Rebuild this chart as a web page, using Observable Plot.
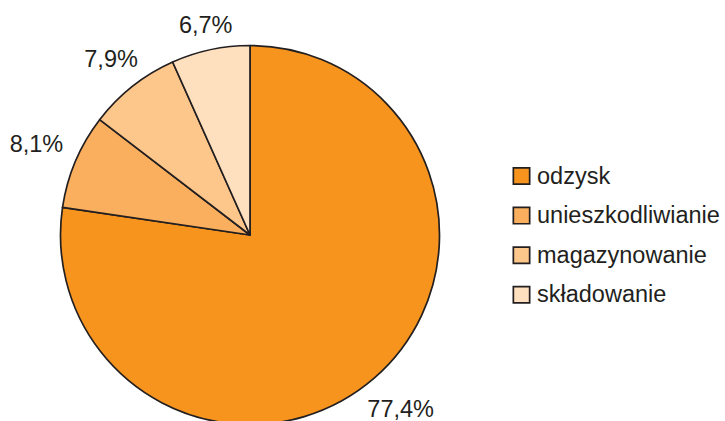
<!DOCTYPE html>
<html>
<head>
<meta charset="utf-8">
<script src="https://cdn.jsdelivr.net/npm/d3@7"></script>
<script src="https://cdn.jsdelivr.net/npm/@observablehq/plot@0.6"></script>
<style>
  html, body { margin: 0; padding: 0; background: #fff; }
  #chart svg { display: block; }
</style>
</head>
<body>
<div id="chart"></div>
<script>
// ---- data ----
const categories = ["odzysk", "unieszkodliwianie", "magazynowanie", "składowanie"];
const values = [77.4, 8.1, 7.9, 6.7];
const labels = ["77,4%", "8,1%", "7,9%", "6,7%"];
const colors = ["#F7941D", "#FAAF5E", "#FDC68A", "#FEDFBE"];

// ---- layout ----
const W = 725, H = 421;
const R = 189.5, CX = 250, CY = 235;       // pie geometry (px)
const ink = "#231f20";
const fontSize = 23.5;

const arcs = d3.pie().sort(null).startAngle(0).endAngle(2 * Math.PI)(values);

// approximate text widths (Arial em widths)
const em = {",": .278, "%": .889};
const textWidth = s => [...s].reduce((a, c) => a + (em[c] || .556), 0) * fontSize;

const labelData = arcs.map((a, i) => {
  const t = (a.startAngle + a.endAngle) / 2;
  const r = (209.5 + 0.93 * Math.abs(Math.sin(t)) * textWidth(labels[i]) / 2) / R;
  return {label: labels[i], x: r * Math.sin(t), y: r * Math.cos(t)};
});

const legendX = (521 - CX) / R;
const legendTextX = (536.5 - CX) / R;
const legendData = categories.map((c, i) => ({
  name: c, color: colors[i], x: legendX, tx: legendTextX, y: (CY - (175.5 + 39.6 * i)) / R
}));

function pieMark(...args) {
  const s = args.find(a => a && typeof a.x === "function" && typeof a.y === "function");
  const cx = s.x(0), cy = s.y(0), rr = s.x(1) - s.x(0);
  const arcGen = d3.arc().innerRadius(0).outerRadius(rr);
  const g = d3.create("svg:g").attr("transform", `translate(${cx},${cy})`);
  g.selectAll("path").data(arcs).join("path")
    .attr("d", arcGen)
    .attr("fill", (d, i) => colors[i])
    .attr("stroke", ink)
    .attr("stroke-width", 1.7)
    .attr("stroke-linejoin", "round");
  return g.node();
}

const chart = Plot.plot({
  width: W,
  height: H,
  margin: 0,
  style: {fontFamily: "Arial, 'Liberation Sans', Helvetica, sans-serif", background: "#fff"},
  x: {domain: [-CX / R, (W - CX) / R], axis: null},
  y: {domain: [-(H - CY) / R, CY / R], axis: null},
  color: {type: "identity"},
  marks: [
    pieMark,
    Plot.text(labelData, {x: "x", y: "y", text: "label", fontSize, fill: ink, textAnchor: "middle"}),
    Plot.dot(legendData, {x: "x", y: "y", symbol: "square", r: 9.2, fill: "color", stroke: ink, strokeWidth: 1.7}),
    Plot.text(legendData, {x: "tx", y: "y", text: "name", fontSize, fill: ink, textAnchor: "start"})
  ]
});
document.getElementById("chart").appendChild(chart);
</script>
</body>
</html>
